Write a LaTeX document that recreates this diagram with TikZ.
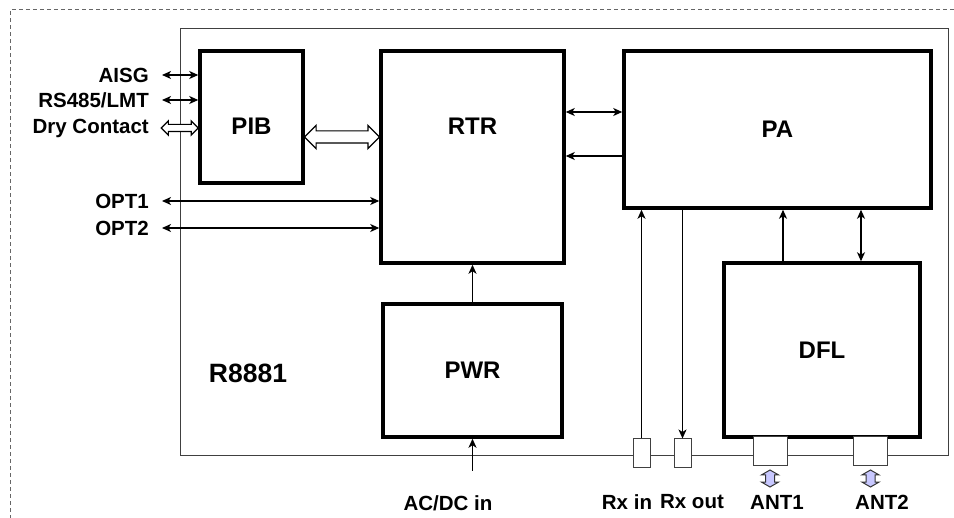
\documentclass[tikz,border=0pt]{standalone}
\usepackage{fontspec}
\setmainfont{Liberation Sans}
\usetikzlibrary{arrows.meta,positioning,calc,shapes.arrows}
\colorlet{boardgray}{black!75}
\colorlet{dashgray}{black!60}
\definecolor{antfill}{HTML}{C8C8FF}

\begin{document}
\begin{tikzpicture}[x=1pt, y=-1pt,
  blk/.style={draw, line width=3.5pt, inner sep=0pt, font=\fontsize{24}{28}\selectfont\bfseries},
  ttl/.style={inner sep=0pt, font=\fontsize{24}{28}\selectfont\bfseries},
  tag/.style={inner sep=0pt, font=\fontsize{20.5}{24}\selectfont\bfseries},
  port/.style={draw=boardgray, fill=white, line width=1pt, inner sep=0pt},
  arr/.style={-{Stealth[length=9pt,width=8pt,inset=2.5pt]}, line width=1.3pt},
  darr/.style={{Stealth[length=9pt,width=8pt,inset=2.5pt]}-{Stealth[length=9pt,width=8pt,inset=2.5pt]}, line width=1.3pt},
  hollow/.style={double arrow, draw, fill=white, line width=1.2pt, inner xsep=0pt},
  antarr/.style={double arrow, draw=black!80, fill=antfill, line width=1pt, inner ysep=0pt,
    inner xsep=4pt, double arrow head extend=4pt, double arrow tip angle=120,
    minimum width=16, minimum height=17, shape border rotate=90}]
\useasboundingbox (0,0) rectangle (954,518);
% frame and board
\draw[dashgray, dash pattern=on 4pt off 3pt, line width=1pt] (10,540) -- (10,10) -- (975,10);
\draw[boardgray, line width=1pt] (180,29) rectangle (948,456);
% modules
\node[blk, minimum width=103, minimum height=132] (pib) at (251.5,117) {};
\node[blk, minimum width=183, minimum height=212] (rtr) at (472.5,157) {};
\node[blk, minimum width=307, minimum height=157] (pa) at (777.5,129.5) {PA};
\node[blk, minimum width=196, minimum height=174] (dfl) at (822,350) {DFL};
\node[blk, minimum width=179, minimum height=133] (pwr) at (472.5,370.5) {PWR};
\node[ttl] (piblbl) at ($(pib.center)+(0,9)$) {PIB};
\node[ttl] (rtrlbl) at ($(rtr.center)+(0,-31)$) {RTR};
\node[inner sep=0pt, font=\fontsize{26.5}{30}\selectfont\bfseries] (model) at (248,373) {R8881};
% ports on the board edge
\node[port, minimum width=17, minimum height=29] (rxin) at (641.5,453.5) {};
\node[port, minimum width=17, minimum height=29] (rxout) at (682.5,453.5) {};
\node[port, minimum width=34, minimum height=29] (ant1) at (770,451.5) {};
\node[port, minimum width=34, minimum height=29] (ant2) at (870.5,451.5) {};
% interfaces on the left
\node[tag, anchor=east] (aisg) at (149,75) {AISG};
\node[tag, anchor=east] (rs485) at (149,100) {RS485/LMT};
\node[tag, anchor=east] (dry) at (149,128) {Dry Contact};
\node[tag, anchor=east] (opt1) at (149,201) {OPT1};
\node[tag, anchor=east] (opt2) at (149,228) {OPT2};
\draw[darr] ([xshift=13pt]aisg.east) -- (aisg.east -| pib.west);
\draw[darr] ([xshift=13pt]rs485.east) -- (rs485.east -| pib.west);
\node[hollow, inner ysep=3pt, double arrow head extend=3.5pt, minimum width=13, minimum height=37] (drylink) at ($(dry.east -| pib.west)+(-18.5,0)$) {};
\draw[darr] ([xshift=13pt]opt1.east) -- (opt1.east -| rtr.west);
\draw[darr] ([xshift=13pt]opt2.east) -- (opt2.east -| rtr.west);
\node[hollow, inner ysep=5.5pt, double arrow head extend=5.5pt, minimum width=22, minimum height=75] (bus) at ($(pib.east)!0.5!(rtr.west)$ |- piblbl) {};
% internal links
\draw[darr] (rtr.east |- 0,112) -- (pa.west |- 0,112);
\draw[arr] (pa.west |- 0,156) -- (rtr.east |- 0,156);
\draw[arr] (pwr.north) -- (rtr.south);
\draw[arr] ([xshift=-39pt]dfl.north) -- ([xshift=-39pt]dfl.north |- pa.south);
\draw[darr] ([xshift=39pt]dfl.north) -- ([xshift=39pt]dfl.north |- pa.south);
\draw[arr] (rxin.north) -- (rxin.north |- pa.south);
\draw[arr] (rxout.north |- pa.south) -- (rxout.north);
% external feeds
\coordinate (acin) at (472.5,471);
\draw[arr] (acin) -- (pwr.south);
\node[antarr] (ant1io) at ($(ant1.south)+(0,12)$) {};
\node[antarr] (ant2io) at ($(ant2.south)+(0,12)$) {};
\node[tag] (acdc) at (448,503) {AC/DC in};
\node[tag] (rxinlbl) at (627,502) {Rx in};
\node[tag] (rxoutlbl) at (692,502) {Rx out};
\node[tag] (ant1lbl) at (777,502) {ANT1};
\node[tag] (ant2lbl) at (882,502) {ANT2};
\end{tikzpicture}
\end{document}
